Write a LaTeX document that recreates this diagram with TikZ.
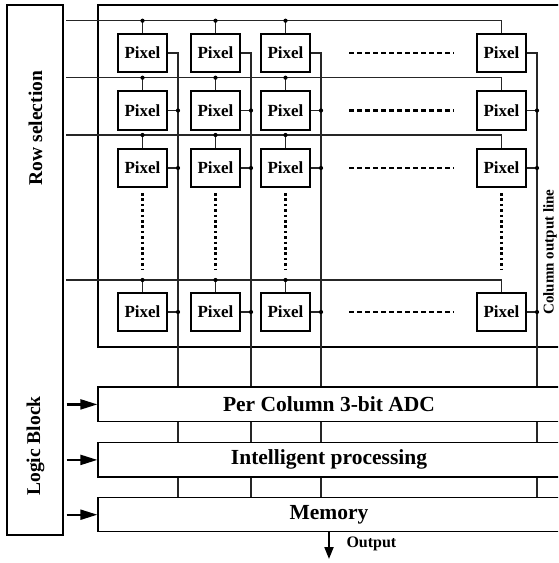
\documentclass[tikz,border=0pt]{standalone}
\usepackage{fontspec}
\setmainfont{Liberation Serif}
\usetikzlibrary{arrows.meta}
\begin{document}
\begin{tikzpicture}[x=1pt,y=-1pt,
  pixelbox/.style={draw,line width=2.3pt,minimum width=48.5pt,minimum height=38.5pt,inner sep=0pt,font=\fontsize{17}{19}\selectfont\bfseries},
  wire/.style={line width=1.1pt,draw=black!85},
  blk/.style={draw,line width=1.3pt,inner sep=0pt},
  dotj/.style={fill,circle,inner sep=0pt,minimum size=4.2pt},
  bigtxt/.style={font=\fontsize{21.5}{24}\selectfont\bfseries},
  sidetxt/.style={font=\fontsize{19.5}{22}\selectfont\bfseries,rotate=90},
  arr/.style={line width=2.2pt,-{Triangle[length=17pt,width=10pt]}},
  arrout/.style={line width=2pt,-{Triangle[length=12pt,width=9pt]}},
  dashrow/.style={line width=2.4pt,dash pattern=on 5pt off 3pt},
  dotcol/.style={line width=2.6pt,dash pattern=on 2.6pt off 2.8pt},
]
\useasboundingbox (0,0) rectangle (558,563);
\clip (0,0) rectangle (558,563);

% left control block
\node[blk,minimum width=56pt,minimum height=530pt] (lsb) at (35,270) {};
\node[sidetxt] (rowsel) at (35.5,128) {Row selection};
\node[sidetxt] (logic) at (35.5,446) {Logic Block};

% pixel array frame (open to the right)
\node[blk,minimum width=464pt,minimum height=342pt] (array) at (330,176) {};

% processing blocks
\node[blk,minimum width=462pt,minimum height=34.7pt,bigtxt] (adc) at (329,404.4) {Per Column 3-bit ADC};
\node[blk,minimum width=462pt,minimum height=34.3pt,bigtxt] (ip) at (329,459.9) {Intelligent processing};
\node[blk,minimum width=462pt,minimum height=34pt,bigtxt] (mem) at (329,514.7) {Memory};

% pixels
\foreach \c/\x in {1/142.5,2/215.5,3/285.5,4/501.5}{
  \foreach \r/\y in {1/53,2/110.5,3/168,4/312}{
    \node[pixelbox] (p\r\c) at (\x,\y) {Pixel};
  }
}

% row selection lines
\foreach \r/\ry in {1/20.7,2/77.7,3/135,4/280}{
  \coordinate (rs\r) at (66,\ry);
  \draw[wire] (rs\r) -| (p\r4.north);
  \foreach \c in {1,2,3}{
    \draw[wire] (p\r\c.north |- rs\r) node[dotj]{} -- (p\r\c.north);
  }
}

% column output lines
\foreach \c/\lx in {1/178,2/251,3/321,4/537}{
  \coordinate (cl\c) at (\lx,387);
  \draw[wire] (p1\c.east) -| (adc.north -| cl\c);
  \foreach \r in {2,3,4}{
    \draw[wire] (p\r\c.east) -- (p\r\c.east -| cl\c) node[dotj]{};
  }
  \draw[wire] (adc.south -| cl\c) -- (ip.north -| cl\c);
  \draw[wire] (ip.south -| cl\c) -- (mem.north -| cl\c);
}

% ellipsis dashes
\foreach \r/\y in {1/53,2/110.5,3/168,4/312}{
  \draw[dashrow] (349,\y) -- (454,\y);
}
\foreach \x in {142.5,215.5,285.5,501.5}{
  \draw[dotcol] (\x,193) -- (\x,270);
}

\node[font=\fontsize{15}{17}\selectfont\bfseries,rotate=90] (colout) at (550,252) {Column output line};

% logic block arrows
\foreach \b in {adc,ip,mem}{
  \draw[arr] ([xshift=3pt]lsb.east |- \b.west) -- (\b.west);
}

% output
\coordinate (outend) at (329,559);
\draw[arrout] (mem.south) -- (outend);
\node[anchor=west,font=\fontsize{16}{18}\selectfont\bfseries] (outlbl) at (343,544) {Output};
\end{tikzpicture}
\end{document}
